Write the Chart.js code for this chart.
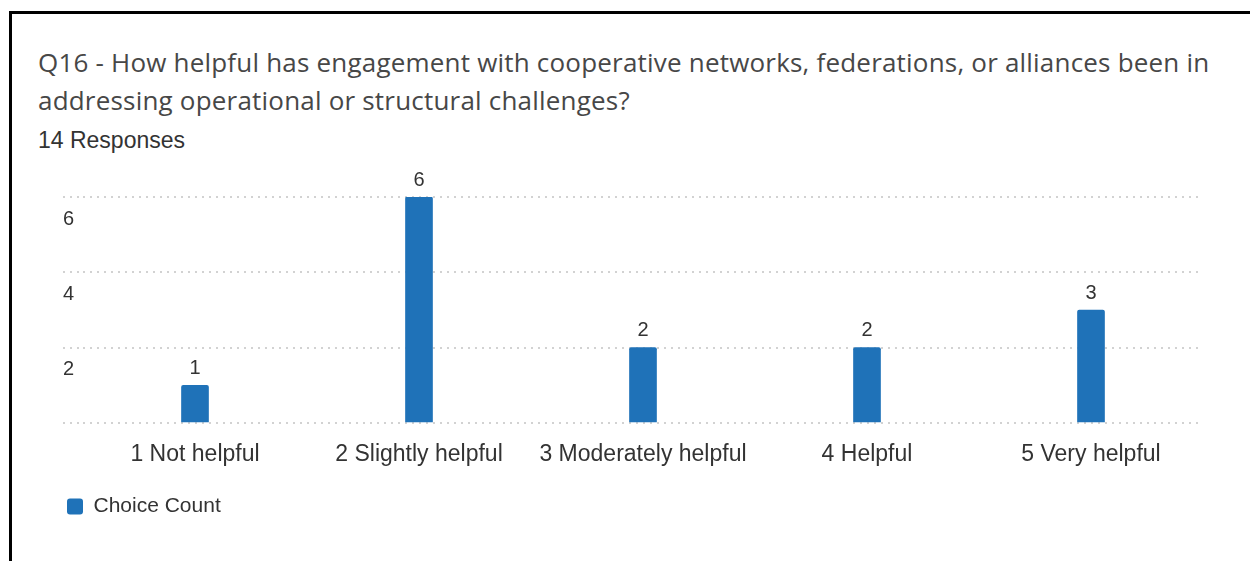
<!DOCTYPE html>
<html>
<head>
<meta charset="utf-8">
<title>Q16 - Choice Count</title>
<script src="https://cdn.jsdelivr.net/npm/chart.js@4.4.1/dist/chart.umd.min.js"></script>
<style>
    html, body {
        margin: 0;
        padding: 0;
        background: #fff;
        width: 1250px;
        height: 561px;
        overflow: hidden;
    }
    .frame {
        position: absolute;
        left: 9px;
        top: 11px;
        right: 0;
        bottom: 0;
        border-top: 3px solid #000;
        border-left: 3px solid #000;
    }
    .question {
        position: absolute;
        left: 38px;
        top: 43px;
        font-family: "Open Sans", sans-serif;
        font-size: 26px;
        letter-spacing: 0.2px;
        line-height: 38px;
        color: #474747;
        white-space: nowrap;
    }
    .responses {
        position: absolute;
        left: 38px;
        top: 127px;
        font-family: "Liberation Sans", Arial, sans-serif;
        font-size: 23px;
        color: #333;
    }
    #chartWrap {
        position: absolute;
        left: 0;
        top: 150px;
        width: 1250px;
        height: 390px;
    }
</style>
</head>
<body>
<div class="frame"></div>
<div class="question">Q16 - How helpful has engagement with cooperative networks, federations, or alliances been in<br>addressing operational or structural challenges?</div>
<div class="responses">14 Responses</div>
<div id="chartWrap"><canvas id="q16Chart"></canvas></div>

<script>
// Answer options and how many respondents picked each one
const choices = ['1 Not helpful', '2 Slightly helpful', '3 Moderately helpful', '4 Helpful', '5 Very helpful'];
const choiceCounts = [1, 6, 2, 2, 3];
const yTicks = [0, 2, 4, 6];

const barColor = '#1f72b8';
const gridColor = '#d2d2d2';
const labelFont = '"Liberation Sans", Arial, sans-serif';

// Writes the count above each bar
const barValueLabels = {
    id: 'barValueLabels',
    afterDatasetsDraw: function (chart) {
        const ctx = chart.ctx;
        ctx.save();
        ctx.font = '20px ' + labelFont;
        ctx.fillStyle = '#333';
        ctx.textAlign = 'center';
        ctx.textBaseline = 'middle';
        chart.getDatasetMeta(0).data.forEach(function (bar, i) {
            ctx.fillText(String(chart.data.datasets[0].data[i]), bar.x, bar.y - 17);
        });
        ctx.restore();
    }
};

const ctx = document.getElementById('q16Chart');
new Chart(ctx, {
    type: 'bar',
    data: {
        labels: choices,
        datasets: [{
            label: 'Choice Count',
            data: choiceCounts,
            backgroundColor: barColor,
            borderRadius: { topLeft: 2, topRight: 2 },
            borderSkipped: 'bottom',
            barThickness: 27
        }]
    },
    options: {
        responsive: true,
        maintainAspectRatio: false,
        animation: false,
        layout: {
            padding: { top: 47, left: 57, right: 47, bottom: 13 }
        },
        scales: {
            x: {
                grid: { display: false, drawTicks: false },
                border: { display: false },
                afterFit: function (scale) {
                    scale.height = 63;
                },
                ticks: {
                    padding: 18,
                    color: '#333',
                    font: { family: labelFont, size: 23 }
                }
            },
            y: {
                min: yTicks[0],
                max: yTicks[yTicks.length - 1],
                afterBuildTicks: function (scale) {
                    scale.ticks = yTicks.map(function (v) { return { value: v }; });
                },
                afterFit: function (scale) {
                    scale.width = 26;
                },
                grid: {
                    color: gridColor,
                    lineWidth: 2,
                    tickColor: gridColor,
                    tickWidth: 2,
                    tickLength: 20,
                    tickBorderDash: [2, 5]
                },
                border: { display: false, dash: [2, 5] },
                ticks: {
                    mirror: true,
                    padding: -20,
                    labelOffset: 22,
                    color: '#333',
                    font: { family: labelFont, size: 20 },
                    callback: function (value) {
                        return value === 0 ? '' : value;
                    }
                }
            }
        },
        plugins: {
            legend: {
                position: 'bottom',
                align: 'start',
                labels: {
                    boxWidth: 16,
                    boxHeight: 16,
                    padding: 10,
                    useBorderRadius: true,
                    borderRadius: 3,
                    color: '#333',
                    font: { family: labelFont, size: 21 }
                }
            },
            tooltip: { enabled: false }
        }
    },
    plugins: [barValueLabels]
});
</script>
</body>
</html>
